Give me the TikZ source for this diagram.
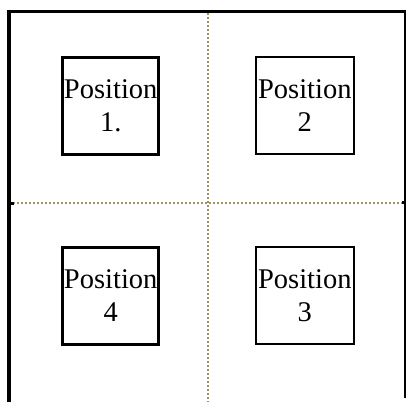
\documentclass[tikz,border=0pt]{standalone}
\usepackage{fontspec}
\setmainfont{Liberation Serif}
\usepackage{tikz}
\definecolor{guide}{RGB}{160,146,96}

\begin{document}
\begin{tikzpicture}[x=1pt, y=-1pt,
        posbox/.style={draw, line width=3pt, minimum width=96pt, minimum height=97pt,
            inner sep=0pt, align=center, font=\fontsize{28.5}{33}\selectfont},
        guideline/.style={guide, line width=2.2pt, dash pattern=on 2pt off 2pt}]
        \useasboundingbox (0,0) rectangle (406,402);

        % marco exterior
        \draw[line width=3.4pt] (9,402) -- (9,11.5) -- (406,11.5);
        \draw[line width=1.5pt] (405,11.5) -- (405,398);

        % lineas guia punteadas
        \draw[guideline] (13,203.3) -- (402,203.3);
        \draw[guideline] (208.3,13) -- (208.3,402);
        \fill (10.5,201.5) rectangle (14,205);
        \fill (401.7,201.2) rectangle (404,203.8);

        % las cuatro posiciones
        \node[posbox] (pos1) at (110.7,105.7) {Position\\1.};
        \node[posbox, line width=2.2pt, minimum width=98pt] (pos2) at (304.8,105.3) {Position\\2};
        \node[posbox, line width=2.2pt, minimum width=98pt] (pos3) at (304.8,295.5) {Position\\3};
        \node[posbox] (pos4) at (110.7,296) {Position\\4};
    \end{tikzpicture}
\end{document}
